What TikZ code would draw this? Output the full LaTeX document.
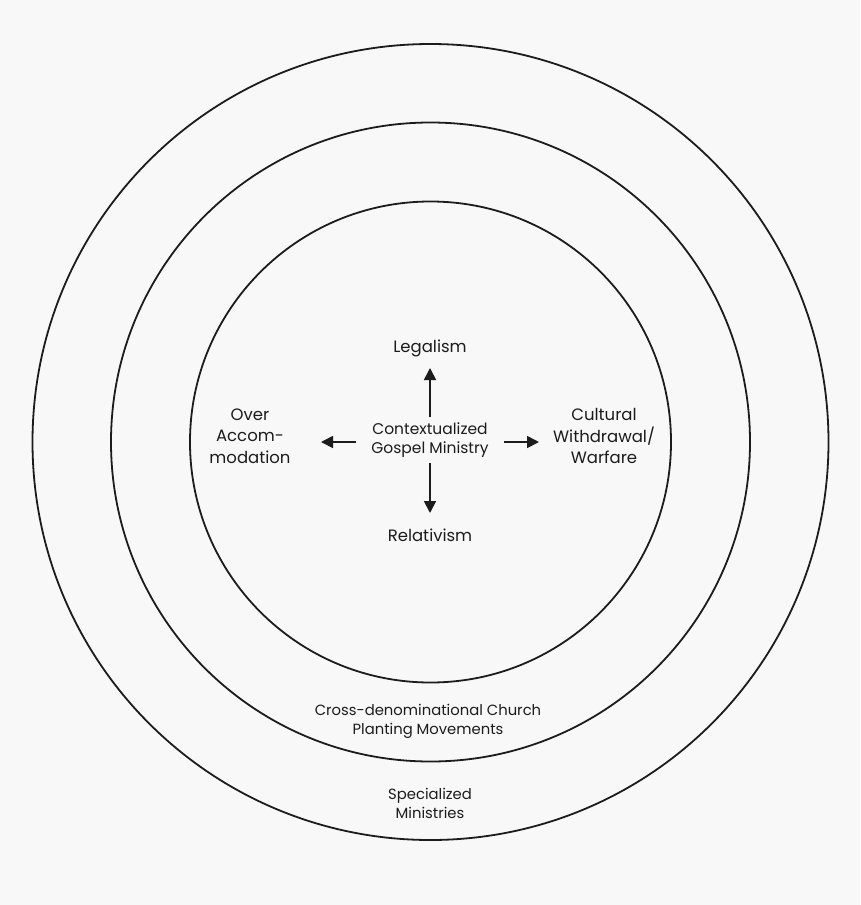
\documentclass[tikz,border=0pt]{standalone}
\usepackage{fontspec}
\setmainfont{Poppins}
\usetikzlibrary{arrows.meta,positioning}
\definecolor{bg}{HTML}{F8F8F8}
\definecolor{ink}{HTML}{1C1C1C}
\tikzset{
  ring/.style={draw=ink, line width=1.8pt},
  lbl/.style={align=center, font=\fontsize{16.5}{21.5}\selectfont, text=ink, inner sep=0pt},
  rlbl/.style={lbl, font=\fontsize{14.8}{19}\selectfont},
  core/.style={align=center, font=\fontsize{15.5}{19}\selectfont, text=ink, inner xsep=15pt, inner ysep=5pt},
  arr/.style={-{Triangle[length=12pt,width=12pt]}, line width=1.7pt, draw=ink}}

\begin{document}
\begin{tikzpicture}[x=1pt,y=-1pt]
  \fill[bg] (0,0) rectangle (860,905);
  \useasboundingbox (0,0) rectangle (860,905);
  % rings
  \coordinate (c) at (430.5,442);
  \draw[ring] (c) circle[radius=398pt];
  \draw[ring] (c) circle[radius=319.5pt];
  \draw[ring] (c) circle[radius=240.5pt];
  % centre and its four poles
  \node[core] (ctr) at (430,440) {Contextualized\\Gospel Ministry};
  \node[lbl] (legal) at (430,348) {Legalism};
  \node[lbl] (relat) at (430,535) {Relativism};
  \node[lbl] (accom) at (250,436) {Over\\Accom-\\modation};
  \node[lbl] (withd) at (604,436) {Cultural\\Withdrawal/\\Warfare};
  \coordinate (tipN) at (430,368);
  \coordinate (tipS) at (430,513);
  \coordinate (tipW) at (321,442);
  \coordinate (tipE) at (539,442);
  \draw[arr] (ctr.north) -- (tipN);
  \draw[arr] (ctr.south) -- (tipS);
  \draw[arr] (ctr.west |- tipW) -- (tipW);
  \draw[arr] (ctr.east |- tipE) -- (tipE);
  % ring labels
  \node[rlbl] (plant) at (428,721) {Cross-denominational Church\\Planting Movements};
  \node[rlbl] (spec) at (430,803) {Specialized\\Ministries};
\end{tikzpicture}
\end{document}
